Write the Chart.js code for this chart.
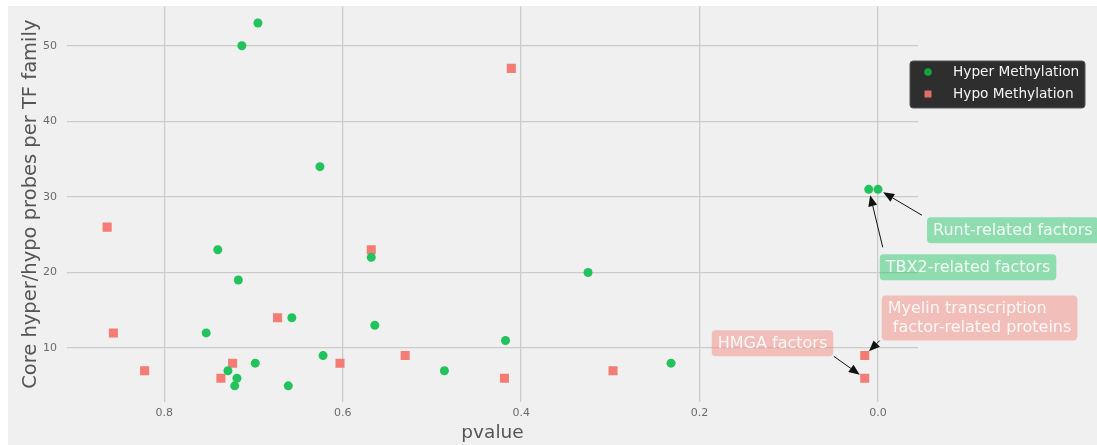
<!DOCTYPE html>
<html>
<head>
<meta charset="utf-8">
<script src="https://cdn.jsdelivr.net/npm/chart.js@4.4.0/dist/chart.umd.min.js"></script>
<style>
  html, body { margin: 0; padding: 0; background: #fff; }
  #wrap { width: 1097px; height: 445px; }
</style>
</head>
<body>
<div id="wrap"><canvas id="chart" width="1097" height="445"></canvas></div>
<script>
// Hyper methylation (green circles)
const hyperP = [0.695, 0.713, 0.6255, 0.740, 0.717, 0.657, 0.753, 0.568, 0.564, 0.622, 0.698, 0.7286, 0.7185, 0.721, 0.661, 0.325, 0.4175, 0.486, 0.232, 0.0104, 0.0];
const hyperN = [53, 50, 34, 23, 19, 14, 12, 22, 13, 9, 8, 7, 6, 5, 5, 20, 11, 7, 8, 31, 31];

// Hypo methylation (red squares)
const hypoP = [0.864, 0.857, 0.822, 0.7365, 0.7234, 0.673, 0.568, 0.603, 0.411, 0.530, 0.4187, 0.297, 0.0149, 0.0149];
const hypoN = [26, 12, 7, 6, 8, 14, 23, 8, 47, 9, 6, 7, 9, 6];

const xTicks = [0.0, 0.2, 0.4, 0.6, 0.8];
const yTicks = [10, 20, 30, 40, 50];

const seriesNames = ['Hyper Methylation', 'Hypo Methylation'];

// annotated points: dataset index, point index, label lines
const notes = [
  { ds: 0, i: 20, lines: ['Runt-related factors'], box: [49, 28], from: [44, 26] },
  { ds: 0, i: 19, lines: ['TBX2-related factors'], box: [11, 65], from: [14, 58] },
  { ds: 1, i: 12, lines: ['Myelin transcription', ' factor-related proteins'], box: [17, -60], from: [15, -15] },
  { ds: 1, i: 13, lines: ['HMGA factors'], box: [-153, -48], from: [-31, -22] }
];

const GREEN = '#22c25c';
const RED = '#f47c74';
const FONT = "'DejaVu Sans', sans-serif";

const toPts = (xs, ys) => xs.map((x, k) => ({ x: x, y: ys[k] }));

const bgPlugin = {
  id: 'bg',
  beforeDraw(chart) {
    const c = chart.ctx;
    c.save();
    c.fillStyle = '#f0f0f0';
    c.fillRect(8, 6, chart.width - 8, chart.height - 6);
    c.restore();
  }
};

function roundRect(c, x, y, w, h, r) {
  c.beginPath();
  c.moveTo(x + r, y);
  c.lineTo(x + w - r, y);
  c.quadraticCurveTo(x + w, y, x + w, y + r);
  c.lineTo(x + w, y + h - r);
  c.quadraticCurveTo(x + w, y + h, x + w - r, y + h);
  c.lineTo(x + r, y + h);
  c.quadraticCurveTo(x, y + h, x, y + h - r);
  c.lineTo(x, y + r);
  c.quadraticCurveTo(x, y, x + r, y);
  c.closePath();
}

const notePlugin = {
  id: 'notes',
  afterDraw(chart) {
    const c = chart.ctx;
    const xs = chart.scales.x, ys = chart.scales.y;
    c.save();
    c.font = '16px ' + FONT;
    notes.forEach(n => {
      const d = chart.data.datasets[n.ds].data[n.i];
      const px = xs.getPixelForValue(d.x), py = ys.getPixelForValue(d.y);
      const isGreen = n.ds === 0;
      // box
      const lh = 19;
      const w = Math.max(...n.lines.map(t => c.measureText(t).width)) + 12;
      const h = n.lines.length * lh + 7;
      const bx = px + n.box[0], by = py + n.box[1];
      c.fillStyle = isGreen ? 'rgba(46,200,110,0.5)' : 'rgba(244,140,130,0.5)';
      roundRect(c, bx, by, w, h, 4);
      c.fill();
      c.fillStyle = 'rgba(255,255,255,0.88)';
      c.textBaseline = 'middle';
      c.textAlign = 'left';
      n.lines.forEach((t, k) => c.fillText(t, bx + 6, by + 4 + lh / 2 + k * lh));
      // arrow
      const sx = px + n.from[0], sy = py + n.from[1];
      const dx = sx - px, dy = sy - py;
      const len = Math.hypot(dx, dy);
      const ux = dx / len, uy = dy / len;
      const tx = px + ux * 6, ty = py + uy * 6;
      const hl = 11, hw = 4.5;
      const bxh = tx + ux * hl, byh = ty + uy * hl;
      c.strokeStyle = '#111';
      c.lineWidth = 1;
      c.beginPath();
      c.moveTo(sx, sy);
      c.lineTo(bxh, byh);
      c.stroke();
      c.fillStyle = '#111';
      c.beginPath();
      c.moveTo(tx, ty);
      c.lineTo(bxh - uy * hw, byh + ux * hw);
      c.lineTo(bxh + uy * hw, byh - ux * hw);
      c.closePath();
      c.fill();
    });

    // legend
    const lx = chart.chartArea.right - 8, ly = 61;
    c.fillStyle = '#2e2e2e';
    roundRect(c, lx, ly, 175, 47, 3);
    c.fill();
    c.strokeStyle = '#555';
    c.lineWidth = 1;
    c.stroke();
    c.font = '13.7px ' + FONT;
    c.textBaseline = 'middle';
    seriesNames.forEach((name, k) => {
      const yy = ly + 11 + k * 22;
      if (k === 0) {
        c.fillStyle = '#10a53a';
        c.beginPath();
        c.arc(lx + 18, yy, 3.8, 0, Math.PI * 2);
        c.fill();
      } else {
        c.fillStyle = '#e26e66';
        c.fillRect(lx + 14.5, yy - 3.5, 7, 7);
      }
      c.fillStyle = '#f4f4f4';
      c.fillText(name, lx + 43, yy);
    });
    c.restore();
  }
};

new Chart(document.getElementById('chart'), {
  type: 'scatter',
  data: {
    datasets: [
      {
        label: seriesNames[0],
        data: toPts(hyperP, hyperN),
        backgroundColor: GREEN,
        borderWidth: 0,
        pointStyle: 'circle',
        pointRadius: 4.5
      },
      {
        label: seriesNames[1],
        data: toPts(hypoP, hypoN),
        backgroundColor: RED,
        borderWidth: 0,
        pointStyle: 'rect',
        pointRadius: 6.4
      }
    ]
  },
  options: {
    responsive: false,
    animation: false,
    layout: { padding: { left: 8, top: 6, right: 179, bottom: 0 } },
    plugins: {
      legend: { display: false },
      tooltip: { enabled: false }
    },
    scales: {
      x: {
        type: 'linear',
        reverse: true,
        min: -0.0448,
        max: 0.909,
        afterBuildTicks: s => { s.ticks = xTicks.map(v => ({ value: v })); },
        afterFit: s => { s.height = 43; s.paddingLeft = 0; s.paddingRight = 0; },
        ticks: {
          callback: v => v.toFixed(1),
          color: '#6a6a6a',
          font: { family: FONT, size: 11 },
          padding: 5
        },
        grid: { color: '#cbcbcb', lineWidth: 1.3, drawTicks: false },
        border: { display: false },
        title: {
          display: true,
          text: 'pvalue',
          color: '#555',
          font: { family: FONT, size: 18.5 },
          padding: { top: 0, bottom: 1 }
        }
      },
      y: {
        min: 2.86,
        max: 55.2,
        afterBuildTicks: s => { s.ticks = yTicks.map(v => ({ value: v })); },
        afterFit: s => { s.width = 59; s.paddingTop = 0; s.paddingBottom = 0; },
        ticks: {
          color: '#6a6a6a',
          font: { family: FONT, size: 11 },
          padding: 10
        },
        grid: { color: '#cbcbcb', lineWidth: 1.3, drawTicks: false },
        border: { display: false },
        title: {
          display: true,
          text: 'Core hyper/hypo probes per TF family',
          color: '#555',
          font: { family: FONT, size: 19.5 },
          padding: { top: 11, bottom: 0 }
        }
      }
    }
  },
  plugins: [bgPlugin, notePlugin]
});
</script>
</body>
</html>
